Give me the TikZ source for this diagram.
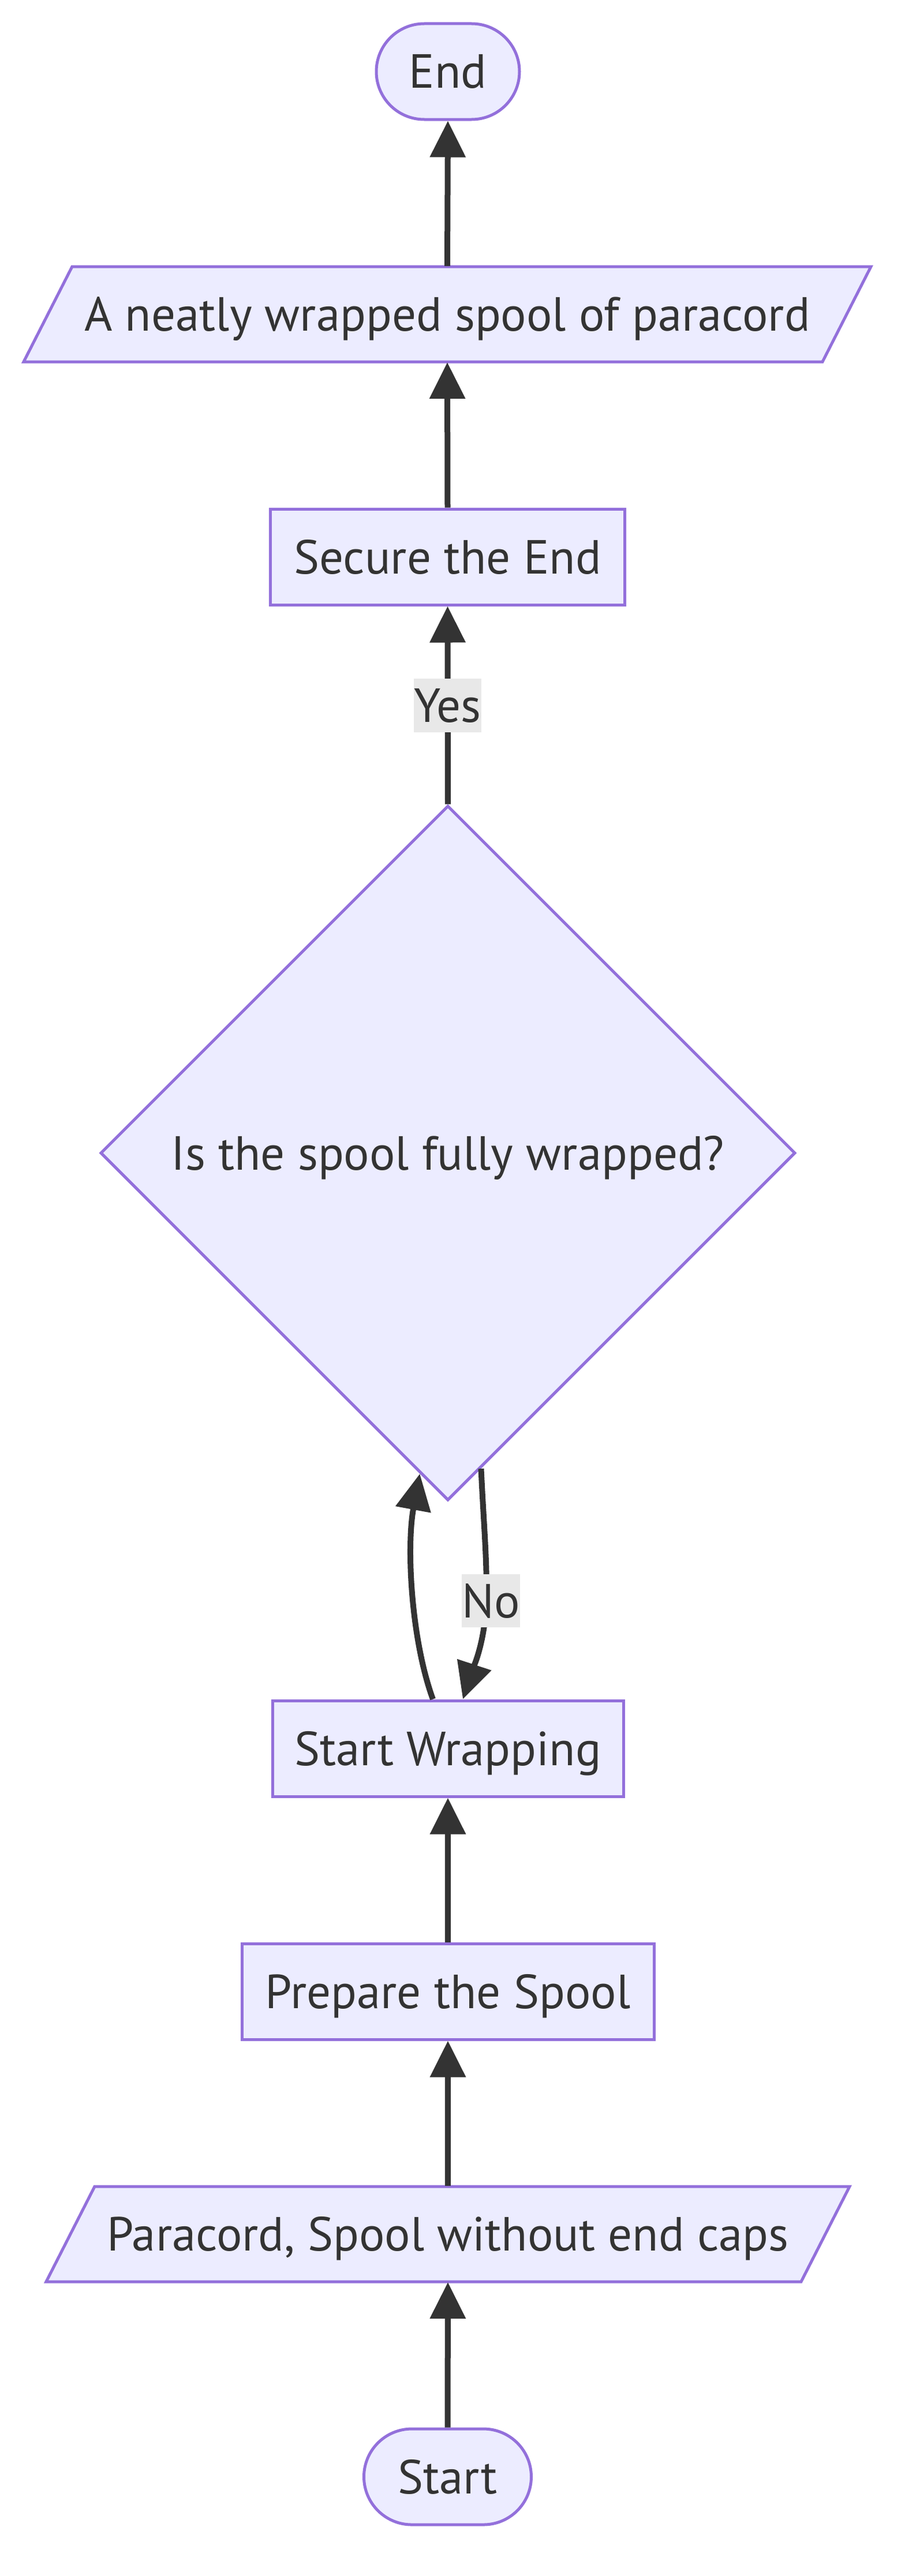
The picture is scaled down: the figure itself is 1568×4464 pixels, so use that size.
\documentclass[tikz,border=0pt]{standalone}
\usepackage{fontspec}
\setmainfont{PT Sans}
\usetikzlibrary{shapes.geometric,arrows.meta,backgrounds}
\definecolor{nodefill}{HTML}{ECECFF}
\definecolor{nodeline}{HTML}{9370DB}
\definecolor{ink}{HTML}{333333}
\definecolor{lblfill}{HTML}{E8E8E8}
\tikzset{
  txt/.style={text=ink, font=\fontsize{41.5}{50}\selectfont, text height=29pt, text depth=0pt},
  boxnode/.style={rectangle, draw=nodeline, fill=nodefill, line width=2.5pt, minimum height=83pt, inner sep=0pt, txt},
  termnode/.style={boxnode, rounded corners=41.5pt},
  paranode/.style={rectangle, draw=none, fill=none, minimum height=83pt, inner sep=0pt, txt},
  parashape/.style={draw=nodeline, fill=nodefill, line width=2.5pt, line join=miter},
  decnode/.style={diamond, aspect=1, draw=nodeline, fill=nodefill, line width=2.5pt, minimum width=602pt, minimum height=602pt, inner sep=0pt, txt},
  edge/.style={draw=ink, line width=5pt, -{Triangle[length=31.5pt,width=30pt]}},
  lblnode/.style={rectangle, fill=lblfill, inner sep=0pt, txt},
}
\begin{document}
\begin{tikzpicture}[x=0.5pt,y=-0.5pt]
\useasboundingbox (0,0) rectangle (1568,4464);
% parallelogram shapes
\path[parashape] (125,462) -- (1509,462) -- (1425,627) -- (41,627) -- cycle;
\path[parashape] (164,3789) -- (1472,3789) -- (1388,3954) -- (80,3954) -- cycle;
% nodes
\node[termnode, minimum width=124pt] (endn) at (776,124) {End};
\node[paranode, minimum width=694pt] (pa) at (775,544.5) {A neatly wrapped spool of paracord};
\node[boxnode, minimum width=307pt] (sec) at (775.5,965) {Secure the End};
\node[decnode] (dec) at (776,1998) {Is the spool fully wrapped?};
\node[boxnode, minimum width=304pt] (sw) at (776,3030) {Start Wrapping};
\node[boxnode, minimum width=357pt] (prep) at (776,3451) {Prepare the Spool};
\node[paranode, minimum width=654pt] (pb) at (776,3871.5) {Paracord, Spool without end caps};
\node[termnode, minimum width=145pt] (startn) at (775.5,4292) {Start};
% edges
\draw[edge] (startn.north) -- (pb.south);
\draw[edge] (pb.north) -- (prep.south);
\draw[edge] (prep.north) -- (sw.south);
\draw[edge] ([xshift=-13pt]sw.north) .. controls (712,2840) and (704,2680) .. (dec.-95.3);
\draw[edge] (dec.-84.2) .. controls (838,2640) and (843,2690) .. (843,2760) .. controls (843,2840) and (820,2890) .. ([xshift=13pt]sw.north);
\draw[edge] (dec.north) -- (sec.south);
\draw[edge] (sec.north) -- (pa.south);
\draw[edge] (pa.north) -- (endn.south);
% labels
\node[lblnode, minimum width=56.5pt, minimum height=46.5pt] (yes) at (775.5,1222) {Yes};
\node[lblnode, minimum width=47.5pt, minimum height=46pt] (no) at (850.5,2774) {No};
\end{tikzpicture}
\end{document}
